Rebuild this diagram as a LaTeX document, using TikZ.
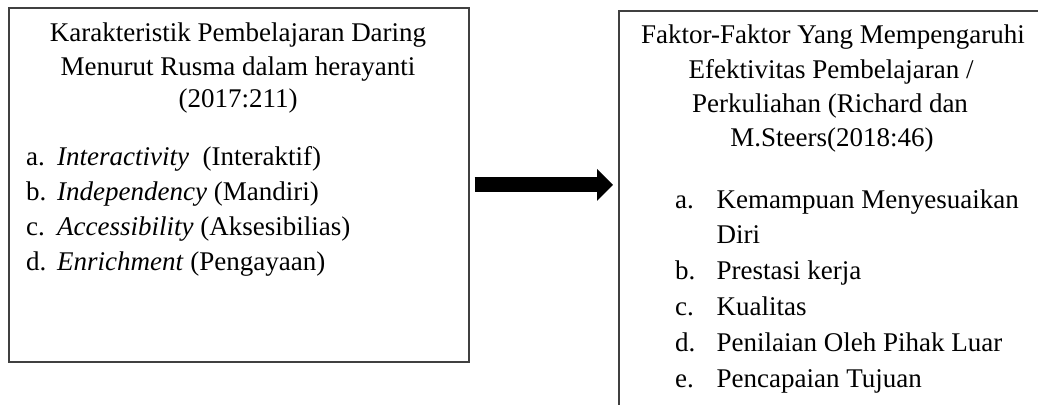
\documentclass[tikz,border=0pt]{standalone}
\usepackage{fontspec}
\setmainfont{Liberation Serif}
\usetikzlibrary{arrows.meta}
\tikzset{
  boxframe/.style={draw=black!75, line width=1.6pt, inner sep=0pt, fill=none},
  txt/.style={inner sep=0pt, anchor=base, font=\fontsize{27}{32}\selectfont},
  lbl/.style={inner sep=0pt, anchor=base west, font=\fontsize{27}{32}\selectfont},
  bigarrow/.style={line width=15pt, -{Triangle[length=16pt,width=31pt]}, shorten <=5pt, shorten >=5pt}
}
\begin{document}
\begin{tikzpicture}[x=1pt,y=-1pt]
\useasboundingbox (0,0) rectangle (1038,404);
\clip (0,0) rectangle (1038,404);
\fill[white] (0,0) rectangle (1038,404);
% boxes
\node[boxframe, anchor=north west, minimum width=460pt, minimum height=354pt] (L) at (8,7) {};
\node[boxframe, anchor=north west, minimum width=432pt, minimum height=420pt] (R) at (618,10) {};
% left title
\node[txt] (lt1) at (238,42) {Karakteristik Pembelajaran Daring};
\node[txt] (lt2) at (238,75) {Menurut Rusma dalam herayanti};
\node[txt] (lt3) at (238,107) {(2017:211)};
% left list
\node[lbl] (la) at (26,165) {a.};
\node[lbl] (lat) at (57,165) {\textit{Interactivity}\ \ (Interaktif)};
\node[lbl] (lb) at (26,200) {b.};
\node[lbl] (lbt) at (57,200) {\textit{Independency} (Mandiri)};
\node[lbl] (lc) at (26,235) {c.};
\node[lbl] (lct) at (57,235) {\textit{Accessibility} (Aksesibilias)};
\node[lbl] (ld) at (26,270) {d.};
\node[lbl] (ldt) at (57,270) {\textit{Enrichment} (Pengayaan)};
% right title
\node[txt] (rt1) at (833,44) {Faktor-Faktor Yang Mempengaruhi};
\node[txt] (rt2) at (831,78) {Efektivitas Pembelajaran /};
\node[txt] (rt3) at (830,112) {Perkuliahan (Richard dan};
\node[txt] (rt4) at (832,146) {M.Steers(2018:46)};
% right list
\node[lbl] (ra) at (675,208) {a.};
\node[lbl] (rat) at (716.5,208) {Kemampuan Menyesuaikan};
\node[lbl] (rat2) at (716.5,243.5) {Diri};
\node[lbl] (rb) at (675,279.5) {b.};
\node[lbl] (rbt) at (716.5,279.5) {Prestasi kerja};
\node[lbl] (rc) at (675,315.5) {c.};
\node[lbl] (rct) at (716.5,315.5) {Kualitas};
\node[lbl] (rd) at (675,351.5) {d.};
\node[lbl] (rdt) at (716.5,351.5) {Penilaian Oleh Pihak Luar};
\node[lbl] (re) at (675,387) {e.};
\node[lbl] (ret) at (716.5,387) {Pencapaian Tujuan};
% arrow
\draw[bigarrow] (L.east) -- (L.east -| R.west);
\end{tikzpicture}
\end{document}
